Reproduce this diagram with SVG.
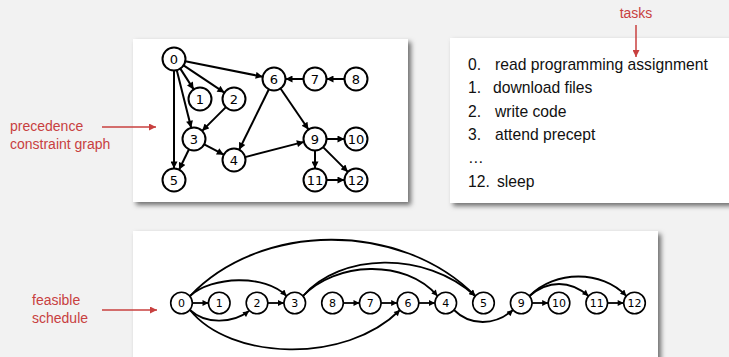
<svg xmlns="http://www.w3.org/2000/svg" width="729" height="357" viewBox="0 0 729 357">
<defs>
<filter id="sh" x="-5%" y="-5%" width="115%" height="120%">
<feDropShadow dx="3" dy="3" stdDeviation="2.5" flood-color="#000" flood-opacity="0.55"/>
</filter>
<marker id="ah" viewBox="0 0 10 10" refX="10" refY="5" markerWidth="8" markerHeight="7" markerUnits="userSpaceOnUse" orient="auto">
<path d="M0,0 L10,5 L0,10 z" fill="#000"/>
</marker>
<marker id="ahs" viewBox="0 0 10 10" refX="10" refY="5" markerWidth="7.5" markerHeight="6" markerUnits="userSpaceOnUse" orient="auto">
<path d="M0,0 L10,5 L0,10 z" fill="#000"/>
</marker>
<marker id="ar" viewBox="0 0 10 10" refX="10" refY="5" markerWidth="8" markerHeight="7" markerUnits="userSpaceOnUse" orient="auto">
<path d="M0,0 L10,5 L0,10 z" fill="#c8403f"/>
</marker>
</defs>
<style>
.panel{fill:#fff;filter:url(#sh)}
.n1 circle{fill:#fff;stroke:#000;stroke-width:2}
.n1 text{font-family:"DejaVu Sans",sans-serif;font-size:13px;text-anchor:middle;fill:#000}
.n3 circle{fill:#fff;stroke:#000;stroke-width:1.6}
.n3 text{font-family:"DejaVu Sans",sans-serif;font-size:11px;text-anchor:middle;fill:#000}
.e1 line{stroke:#000;stroke-width:2;marker-end:url(#ah)}
.e3 line,.e3 path{stroke:#000;stroke-width:1.8;fill:none;marker-end:url(#ahs)}
.red{font-family:"Liberation Sans",sans-serif;font-size:14px;fill:#c8403f}
.redl{stroke:#c8403f;stroke-width:1.5;marker-end:url(#ar)}
.task{font-family:"Liberation Sans",sans-serif;font-size:15.7px;fill:#111}
</style>
<rect x="0" y="0" width="729" height="357" fill="#f2f2f2"/>
<rect class="panel" x="133" y="39" width="275" height="163"/>
<rect class="panel" x="450" y="38" width="300" height="165"/>
<rect class="panel" x="133" y="231" width="525" height="140"/>

<g id="labels">
<text class="red" x="636" y="18" text-anchor="middle">tasks</text>
<line class="redl" x1="636" y1="25" x2="636" y2="57"/>
<text class="red" x="10" y="131">precedence</text>
<text class="red" x="10" y="149">constraint graph</text>
<line class="redl" x1="102" y1="127" x2="156" y2="127"/>
<text class="red" x="32" y="305">feasible</text>
<text class="red" x="32" y="323">schedule</text>
<line class="redl" x1="102" y1="310" x2="157" y2="310"/>
</g>

<g id="tasklist">
<text class="task" x="468" y="70">0.</text><text class="task" x="495" y="70">read programming assignment</text>
<text class="task" x="468" y="93">1.</text><text class="task" x="493" y="93">download files</text>
<text class="task" x="468" y="117">2.</text><text class="task" x="495" y="117">write code</text>
<text class="task" x="468" y="140">3.</text><text class="task" x="495" y="140">attend precept</text>
<text class="task" x="468" y="163">…</text>
<text class="task" x="468" y="187">12.</text><text class="task" x="497" y="187">sleep</text>
</g>

<g id="graph-edges" class="e1">
<line x1="180.3" y1="68.6" x2="193.7" y2="89.4"/>
<line x1="183.6" y1="65.4" x2="224.4" y2="92.6"/>
<line x1="176.8" y1="70.2" x2="191.2" y2="127.8"/>
<line x1="174" y1="70.5" x2="174" y2="168.5"/>
<line x1="185.3" y1="61.3" x2="262.7" y2="76.7"/>
<line x1="225.9" y1="107.1" x2="202.1" y2="130.9"/>
<line x1="204.2" y1="144.3" x2="223.8" y2="154.7"/>
<line x1="189" y1="149.3" x2="179" y2="169.7"/>
<line x1="268.9" y1="89.3" x2="239.1" y2="149.7"/>
<line x1="280.5" y1="88.5" x2="308.5" y2="129.5"/>
<line x1="245.1" y1="157.1" x2="303.9" y2="141.9"/>
<line x1="303.5" y1="79" x2="285.5" y2="79"/>
<line x1="344.5" y1="79" x2="326.5" y2="79"/>
<line x1="326.5" y1="139" x2="344.5" y2="139"/>
<line x1="315" y1="150.5" x2="315" y2="168.5"/>
<line x1="323.1" y1="147.1" x2="347.9" y2="171.9"/>
<line x1="326.5" y1="180" x2="344.5" y2="180"/>
</g>

<g id="g-n0" class="n1"><circle cx="174" cy="59" r="11.5"/><text x="174" y="63.5">0</text></g>
<g id="g-n1" class="n1"><circle cx="200" cy="99" r="11.5"/><text x="200" y="103.5">1</text></g>
<g id="g-n2" class="n1"><circle cx="234" cy="99" r="11.5"/><text x="234" y="103.5">2</text></g>
<g id="g-n3" class="n1"><circle cx="194" cy="139" r="11.5"/><text x="194" y="143.5">3</text></g>
<g id="g-n4" class="n1"><circle cx="234" cy="160" r="11.5"/><text x="234" y="164.5">4</text></g>
<g id="g-n5" class="n1"><circle cx="174" cy="180" r="11.5"/><text x="174" y="184.5">5</text></g>
<g id="g-n6" class="n1"><circle cx="274" cy="79" r="11.5"/><text x="274" y="83.5">6</text></g>
<g id="g-n7" class="n1"><circle cx="315" cy="79" r="11.5"/><text x="315" y="83.5">7</text></g>
<g id="g-n8" class="n1"><circle cx="356" cy="79" r="11.5"/><text x="356" y="83.5">8</text></g>
<g id="g-n9" class="n1"><circle cx="315" cy="139" r="11.5"/><text x="315" y="143.5">9</text></g>
<g id="g-n10" class="n1"><circle cx="356" cy="139" r="11.5"/><text x="356" y="143.5">10</text></g>
<g id="g-n11" class="n1"><circle cx="315" cy="180" r="11.5"/><text x="315" y="184.5">11</text></g>
<g id="g-n12" class="n1"><circle cx="356" cy="180" r="11.5"/><text x="356" y="184.5">12</text></g>

<g id="schedule-edges" class="e3">
<line x1="192.3" y1="303" x2="208.5" y2="303"/>
<line x1="267.8" y1="303" x2="284" y2="303"/>
<line x1="343.3" y1="303" x2="359.5" y2="303"/>
<line x1="381" y1="303" x2="397.2" y2="303"/>
<line x1="418.8" y1="303" x2="435" y2="303"/>
<line x1="532" y1="303" x2="548.2" y2="303"/>
<line x1="607.5" y1="303" x2="623.7" y2="303"/>
<path d="M190,296 C212,276 265,274 286.5,296"/>
<path d="M190,296 C260,222 400,220 475.3,296"/>
<path d="M190,310 C205,324 232,324 249,311"/>
<path d="M190,310 C230,360 345,365 400,310"/>
<path d="M303,296 C335,262 405,258 437.5,296"/>
<path d="M303,296 C340,253 425,250 475.3,296"/>
<path d="M454,310 C470,326 495,326 513,310"/>
<path d="M529.5,296 C548,280 570,280 588.5,296"/>
<path d="M529.5,296 C555,270 602,270 626.3,296"/>
</g>

<g id="s-n0" class="n3"><circle cx="181.5" cy="303" r="10.8"/><text x="181.5" y="307">0</text></g>
<g id="s-n1" class="n3"><circle cx="219.25" cy="303" r="10.8"/><text x="219.25" y="307">1</text></g>
<g id="s-n2" class="n3"><circle cx="257" cy="303" r="10.8"/><text x="257" y="307">2</text></g>
<g id="s-n3" class="n3"><circle cx="294.75" cy="303" r="10.8"/><text x="294.75" y="307">3</text></g>
<g id="s-n8" class="n3"><circle cx="332.5" cy="303" r="10.8"/><text x="332.5" y="307">8</text></g>
<g id="s-n7" class="n3"><circle cx="370.25" cy="303" r="10.8"/><text x="370.25" y="307">7</text></g>
<g id="s-n6" class="n3"><circle cx="408" cy="303" r="10.8"/><text x="408" y="307">6</text></g>
<g id="s-n4" class="n3"><circle cx="445.75" cy="303" r="10.8"/><text x="445.75" y="307">4</text></g>
<g id="s-n5" class="n3"><circle cx="483.5" cy="303" r="10.8"/><text x="483.5" y="307">5</text></g>
<g id="s-n9" class="n3"><circle cx="521.25" cy="303" r="10.8"/><text x="521.25" y="307">9</text></g>
<g id="s-n10" class="n3"><circle cx="559" cy="303" r="10.8"/><text x="559" y="307">10</text></g>
<g id="s-n11" class="n3"><circle cx="596.75" cy="303" r="10.8"/><text x="596.75" y="307">11</text></g>
<g id="s-n12" class="n3"><circle cx="634.5" cy="303" r="10.8"/><text x="634.5" y="307">12</text></g>
</svg>
